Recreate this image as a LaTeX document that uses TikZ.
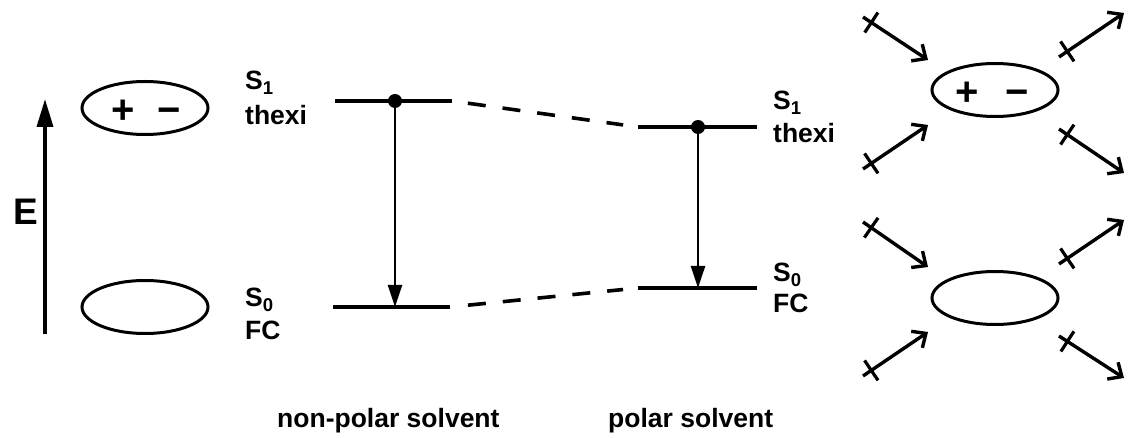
\documentclass[tikz,border=0pt]{standalone}
\usepackage{fontspec}
\setmainfont{Liberation Sans}
\usetikzlibrary{shapes.geometric,arrows.meta,calc}
\begin{document}
\begin{tikzpicture}[x=1pt,y=-1pt,
  lbl/.style={font=\fontsize{26.5}{26.5}\selectfont\bfseries, anchor=base west, inner sep=0},
  orb/.style={draw, ellipse, line width=3pt, minimum width=126pt, minimum height=53pt, inner sep=0},
  level/.style={line width=3.6pt},
  trans/.style={line width=2.4pt, -{Triangle[length=22pt,width=14pt]}},
  corr/.style={line width=3.6pt, dash pattern=on 18pt off 17pt},
  solv/.style={line width=3.4pt, -{Straight Barb[length=11pt,width=20pt]}},
  sign/.style={font=\fontsize{40}{40}\selectfont\bfseries, inner sep=0, anchor=base},
  dot/.style={circle, fill, inner sep=0, minimum size=14pt}]
\useasboundingbox (0,0) rectangle (1128,438);

% energy axis
\coordinate (Ebot) at (45,334);
\coordinate (Etop) at (45,99);
\draw[line width=3.6pt, -{Triangle[length=28pt,width=16pt]}] (Ebot) -- (Etop);
\node[font=\fontsize{37}{37}\selectfont\bfseries, inner sep=0] (E) at (26,212) {E};

% left orbitals
\node[orb] (orbS1) at (145,108) {};
\node[sign] (plusL) at (123,124) {+};
\node[sign] (minusL) at (169,124) {\char"2212};
\node[orb] (orbS0) at (145,307) {};

% left labels
\node[lbl] (lS1) at (245,90) {S\textsubscript{1}};
\node[lbl] (lth) at (245,125) {thexi};
\node[lbl] (lS0) at (245,307) {S\textsubscript{0}};
\node[lbl] (lFC) at (245,340) {FC};

% non-polar levels
\coordinate (a1) at (335,101);
\coordinate (a2) at (452,101);
\coordinate (b1) at (333,307);
\coordinate (b2) at (450,307);
\draw[level] (a1) -- (a2);
\draw[level] (b1) -- (b2);
\node[dot] (dotA) at (395,101) {};
\coordinate (endA) at (395,307);
\draw[trans] (dotA.center) -- (endA);

% polar levels
\coordinate (c1) at (638,127);
\coordinate (c2) at (757,127);
\coordinate (d1) at (638,288);
\coordinate (d2) at (757,288);
\draw[level] (c1) -- (c2);
\draw[level] (d1) -- (d2);
\node[dot] (dotC) at (698,127) {};
\coordinate (endC) at (698,288);
\draw[trans] (dotC.center) -- (endC);

% correlation lines
\draw[corr, shorten <=16pt] (a2) -- ($(c1)!15pt!(a2)$);
\draw[corr, shorten <=18pt] (b2) -- ($(d1)!15pt!(b2)$);

% right labels
\node[lbl] (rS1) at (773,110) {S\textsubscript{1}};
\node[lbl] (rth) at (773,143) {thexi};
\node[lbl] (rS0) at (773,282) {S\textsubscript{0}};
\node[lbl] (rFC) at (773,313) {FC};

% bottom labels
\node[lbl] (np) at (277,428) {non-polar solvent};
\node[lbl] (po) at (608,428) {polar solvent};

% solvated orbitals
\node[orb] (oT) at (995,90) {};
\node[sign] (plusR) at (967,106) {+};
\node[sign] (minusR) at (1017,106) {\char"2212};
\node[orb] (oB) at (995,298) {};

\foreach \n/\tx/\ty/\hx/\hy in {
  1/863/17/928/60, 2/1059/57/1124/13, 3/863/169/928/125, 4/1059/129/1124/173,
  5/863/222/928/267, 6/1059/264/1124/220, 7/863/376/928/332, 8/1059/336/1124/378} {
  \coordinate (t\n) at (\tx,\ty);
  \coordinate (h\n) at (\hx,\hy);
  \draw[solv] (t\n) -- (h\n);
  \draw[line width=3.2pt] ($(t\n)!10pt!(h\n)!12pt!90:(h\n)$) -- ($(t\n)!10pt!(h\n)!12pt!-90:(h\n)$);
}
\end{tikzpicture}
\end{document}
